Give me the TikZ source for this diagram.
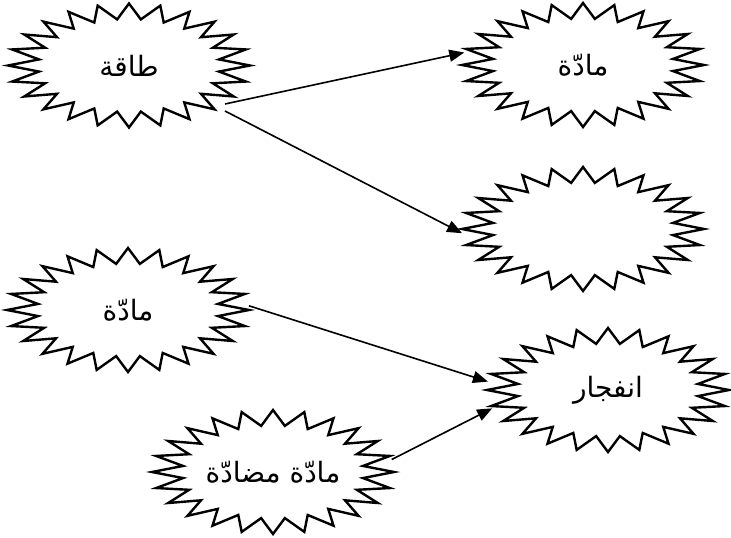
\documentclass[tikz,border=0pt]{standalone}
\usepackage{fontspec}
\newfontfamily\arabicfont[Script=Arabic]{DejaVu Sans}
\TeXXeTstate=1
\usetikzlibrary{shapes.geometric,arrows.meta,calc}
\begin{document}
\begin{tikzpicture}[x=1pt,y=-1pt,
  burst/.style={ellipse,minimum width=242pt,minimum height=124pt,inner sep=0pt,
    font=\arabicfont\fontsize{28}{32}\selectfont},
  starline/.style={line width=2.4pt,line join=miter,black},
  conn/.style={line width=1.6pt,-{Triangle[length=15pt,width=12pt]}}]
\useasboundingbox (0,0) rectangle (731,538);
\node[burst] (s1) at (129,65.5) {\beginR طاقة\endR};
\node[burst] (s2) at (583,65) {\beginR مادّة\endR};
\node[burst] (s3) at (583,229) {};
\node[burst] (s4) at (128,310) {\beginR مادّة\endR};
\node[burst] (s5) at (273,472) {\beginR مادّة مضادّة\endR};
\node[burst] (s6) at (608,390) {\beginR انفجار\endR};
\foreach \n in {s1,s2,s3,s4,s5,s6}{
  \begin{scope}[shift={(\n.center)}]
    \draw[starline] plot[samples at={0,...,47},variable=\k]
      ({121*(1-0.25*mod(\k,2))*cos(90+7.5*\k)},{-62*(1-0.25*mod(\k,2))*sin(90+7.5*\k)}) -- cycle;
  \end{scope}
}
\draw[conn] ($(s1.center)+(96,38.5)$) -- (s2.174);
\draw[conn] ($(s1.center)+(96,45.5)$) -- (s3.182);
\draw[conn] (s4.2) -- (s6.176);
\draw[conn] (s5.6) -- (s6.189);
\end{tikzpicture}
\end{document}
